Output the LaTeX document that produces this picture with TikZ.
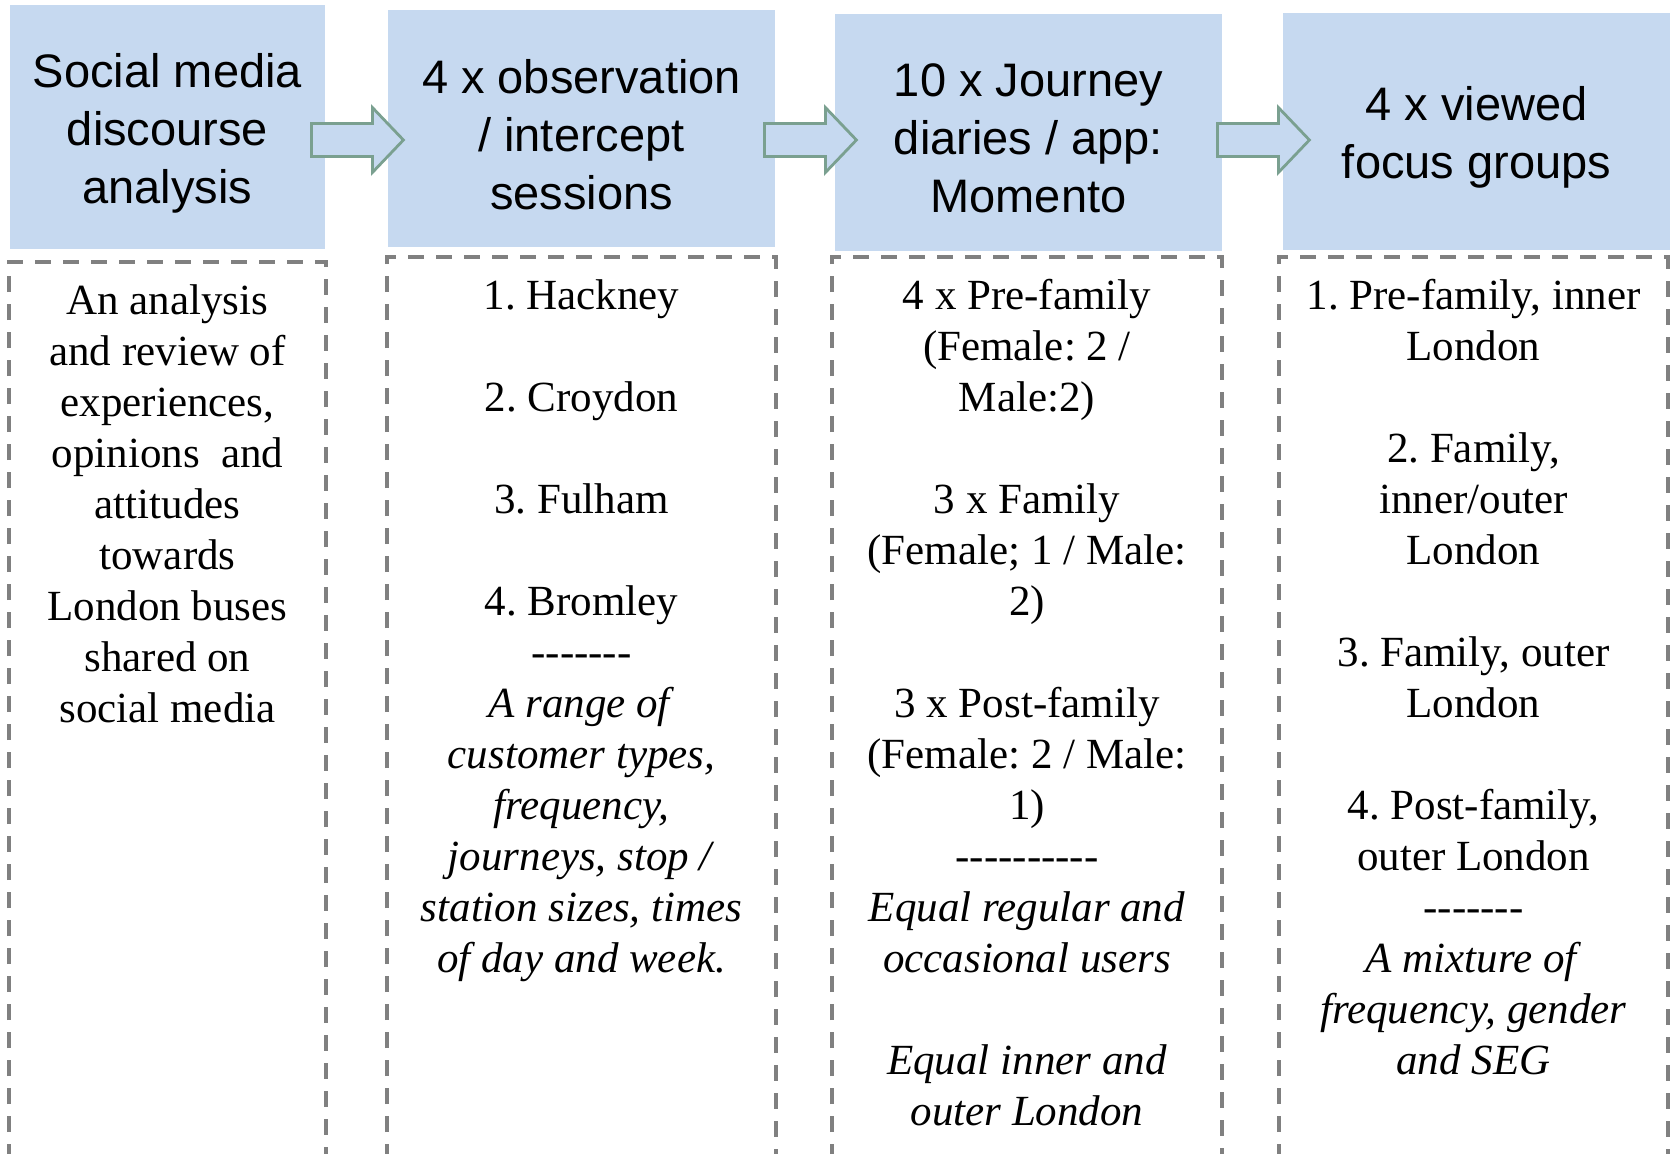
\documentclass[tikz,border=0pt]{standalone}
\usepackage{fontspec}
\setmainfont{Liberation Serif}
\setsansfont{Liberation Sans}
\usetikzlibrary{calc}

\definecolor{stagefill}{RGB}{198,217,240}
\definecolor{arrowline}{RGB}{122,160,144}
\definecolor{framegray}{RGB}{128,128,128}

% a hyphen that does not join into a dash
\newcommand\hy{-\kern0pt}

\tikzset{
  stage/.style={fill=stagefill, inner sep=0pt, minimum height=118.5pt},
  title/.style={align=center, inner sep=0pt, font=\sffamily\fontsize{23.5}{29}\selectfont},
  flow/.style={draw=arrowline, fill=stagefill, line width=1.4pt, line join=miter},
  frame/.style={draw=framegray, line width=1.8pt, dash pattern=on 8pt off 6pt},
  notes/.style={anchor=north, align=center, inner sep=0pt,
    font=\frenchspacing\fontsize{21.5}{25.5}\selectfont},
}

\begin{document}
\begin{tikzpicture}[x=0.5pt,y=-0.5pt]
\useasboundingbox (0,0) rectangle (1671,1153);

% Stage boxes
\node[stage, minimum width=157.5pt, minimum height=122pt] (social) at (167.5,127) {};
\node[stage, minimum width=193.5pt] (observe) at (581.5,128.5) {};
\node[stage, minimum width=193.5pt] (diary) at (1028.5,132) {};
\node[stage, minimum width=193.5pt] (focus) at (1476.5,131.5) {};

\node[title] (socialtitle) at ([yshift=-3pt]social.center) {Social media\\discourse\\analysis};
\node[title] (observetitle) at ([yshift=-3pt]observe.center) {4 x observation\\/ intercept\\sessions};
\node[title] (diarytitle) at ([yshift=-3pt]diary.center) {10 x Journey\\diaries / app:\\Momento};
\node[title] (focustitle) at ([yshift=-3pt]focus.center) {4 x viewed\\focus groups};

% Block arrows between stages
\foreach \a/\d in {social/-14,observe/-11,diary/-5}
  \draw[flow] ($(\a.east |- 0,140)+(\d,-16.5)$) -- ++(61,0) -- ++(0,-16) -- ++(31,32.5)
    -- ++(-31,32.5) -- ++(0,-16) -- ++(-61,0) -- cycle;

% Dashed frames, open at the bottom
\draw[frame] (9,1160) |- (326,262) -- (326,1160);
\draw[frame] (387,1160) |- (776,257) -- (776,1160);
\draw[frame] (832,1160) |- (1222,257) -- (1222,1160);
\draw[frame] (1279,1160) |- (1668,257) -- (1668,1160);

% Notes under each stage
\node[notes] (socialnotes) at (167.5,284) {An analysis\\and review of\\experiences,\\opinions\ \ and\\attitudes\\towards\\London buses\\shared on\\social media};

\node[notes] (observenotes) at (581.5,279) {1. Hackney\\[25.5pt]2. Croydon\\[25.5pt]3. Fulham\\[25.5pt]4. Bromley\\
  \hy\hy\hy\hy\hy\hy\hy\\\textit{A range of}\\\textit{customer types,}\\\textit{frequency,}\\
  \textit{journeys, stop /}\\\textit{station sizes, times}\\\textit{of day and week.}};

\node[notes] (diarynotes) at (1027,279) {4 x Pre-family\\(Female: 2 /\\Male:2)\\[25.5pt]3 x Family\\
  (Female; 1 / Male:\\2)\\[25.5pt]3 x Post-family\\(Female: 2 / Male:\\1)\\
  \hy\hy\hy\hy\hy\hy\hy\hy\hy\hy\\\textit{Equal regular and}\\\textit{occasional users}\\[25.5pt]
  \textit{Equal inner and}\\\textit{outer London}};

\node[notes] (focusnotes) at (1473.5,279) {1. Pre-family, inner\\London\\[25.5pt]2. Family,\\inner/outer\\London\\[25.5pt]
  3. Family, outer\\London\\[25.5pt]4. Post-family,\\outer London\\\hy\hy\hy\hy\hy\hy\hy\\
  \textit{A mixture of}\\\textit{frequency, gender}\\\textit{and SEG}};
\end{tikzpicture}
\end{document}
